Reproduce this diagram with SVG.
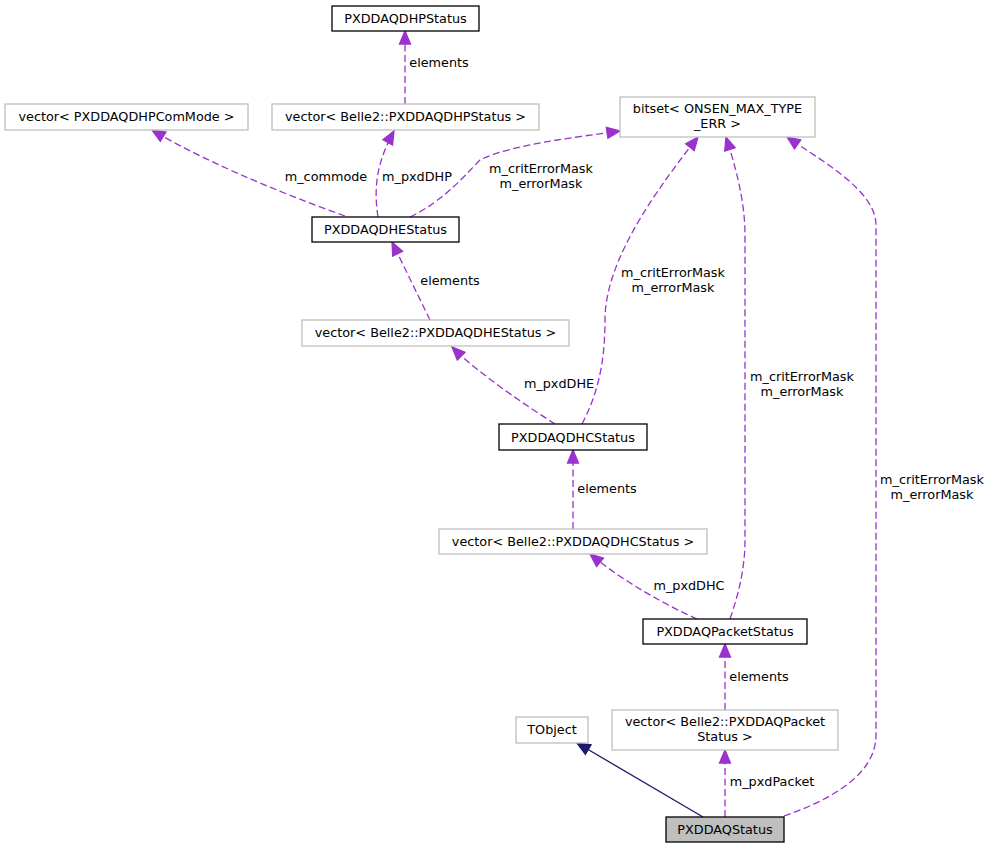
<svg xmlns="http://www.w3.org/2000/svg" width="992" height="848" viewBox="0 0 992 848">
<style>
text{font-family:"DejaVu Sans","Liberation Sans",sans-serif;font-size:12.8px;fill:#000;text-anchor:middle}
.doc{fill:#fff;stroke:#000;stroke-width:1.3}
.ext{fill:#fff;stroke:#bfbfbf;stroke-width:1.3}
.cur{fill:#bfbfbf;stroke:#000;stroke-width:1.3}
.use{fill:none;stroke:#9a32cd;stroke-width:1.3;stroke-dasharray:7,3.5;marker-end:url(#pa)}
.inh{fill:none;stroke:#191970;stroke-width:1.3;marker-end:url(#ba)}
</style>
<defs>
<marker id="pa" markerUnits="userSpaceOnUse" markerWidth="16" markerHeight="14" refX="14" refY="6" orient="auto" viewBox="0 0 16 12">
<path d="M1,0.5 L14,6 L1,11.5 Z" fill="#9a32cd" stroke="#9a32cd" stroke-width="1.3" stroke-dasharray="none"/>
</marker>
<marker id="ba" markerUnits="userSpaceOnUse" markerWidth="16" markerHeight="14" refX="14" refY="6" orient="auto" viewBox="0 0 16 12">
<path d="M1,0.5 L14,6 L1,11.5 Z" fill="#191970" stroke="#191970" stroke-width="1.3"/>
</marker>
</defs>
<g id="connectors">
<path class="use" d="M405,104 V31"/>
<text x="439" y="66.5">elements</text>
<path class="use" d="M345,216 C300,200 210,165 152,130"/>
<text x="326" y="181">m_commode</text>
<path class="use" d="M378,217 C373,185 378,160 394,131"/>
<text x="417" y="181">m_pxdDHP</text>
<path class="use" d="M410,217 C445,200 465,175 480,160 C510,145 570,138 620,131"/>
<text x="541" y="173">m_critErrorMask</text>
<text x="541" y="188">m_errorMask</text>
<path class="use" d="M430,320 L392,242"/>
<text x="450" y="285">elements</text>
<path class="use" d="M555,424 C530,408 480,375 452,347"/>
<text x="559" y="388">m_pxdDHE</text>
<path class="use" d="M582,424 C597,395 605,365 605,320 C605,270 640,210 698,137"/>
<text x="673" y="277">m_critErrorMask</text>
<text x="673" y="292">m_errorMask</text>
<path class="use" d="M573,529 V450"/>
<text x="607" y="493">elements</text>
<path class="use" d="M697,619 C670,607 625,583 590,554"/>
<text x="689" y="590">m_pxdDHC</text>
<path class="use" d="M730,619 C740,590 745,565 745,540 V235 C745,200 735,165 726,137"/>
<text x="802" y="381">m_critErrorMask</text>
<text x="802" y="396">m_errorMask</text>
<path class="use" d="M725,710 V644"/>
<text x="759" y="681">elements</text>
<path class="use" d="M725,817 V750"/>
<text x="772" y="786">m_pxdPacket</text>
<path class="use" d="M784,816 C830,800 876,775 876,735 V225 C876,190 820,160 787,137"/>
<text x="932" y="484">m_critErrorMask</text>
<text x="932" y="499">m_errorMask</text>
<path class="inh" d="M703,817 L577,743"/>
</g>
<g id="PXDDAQDHPStatus"><rect class="doc" x="332" y="6" width="147" height="25"/><text x="405.5" y="23">PXDDAQDHPStatus</text></g>
<g id="vecDHP"><rect class="ext" x="272" y="104" width="267" height="26"/><text x="405.5" y="121">vector&lt; Belle2::PXDDAQDHPStatus &gt;</text></g>
<g id="vecComMode"><rect class="ext" x="5" y="104" width="243" height="26"/><text x="126.5" y="121">vector&lt; PXDDAQDHPComMode &gt;</text></g>
<g id="bitset"><rect class="ext" x="620" y="97" width="195" height="40"/><text x="717.5" y="112.5">bitset&lt; ONSEN_MAX_TYPE</text><text x="717.5" y="127.5">_ERR &gt;</text></g>
<g id="PXDDAQDHEStatus"><rect class="doc" x="312" y="217" width="147" height="25"/><text x="385.5" y="234">PXDDAQDHEStatus</text></g>
<g id="vecDHE"><rect class="ext" x="302" y="320" width="267" height="26"/><text x="435.5" y="337">vector&lt; Belle2::PXDDAQDHEStatus &gt;</text></g>
<g id="PXDDAQDHCStatus"><rect class="doc" x="499" y="424" width="148" height="26"/><text x="573" y="441.5">PXDDAQDHCStatus</text></g>
<g id="vecDHC"><rect class="ext" x="439" y="529" width="268" height="25"/><text x="573" y="546">vector&lt; Belle2::PXDDAQDHCStatus &gt;</text></g>
<g id="PXDDAQPacketStatus"><rect class="doc" x="643" y="619" width="164" height="25"/><text x="725" y="636">PXDDAQPacketStatus</text></g>
<g id="vecPacket"><rect class="ext" x="612" y="710" width="226" height="40"/><text x="725" y="726">vector&lt; Belle2::PXDDAQPacket</text><text x="725" y="741">Status &gt;</text></g>
<g id="TObject"><rect class="ext" x="516" y="717" width="72" height="26"/><text x="552" y="734">TObject</text></g>
<g id="PXDDAQStatus"><rect class="cur" x="666" y="817" width="118" height="25"/><text x="725" y="834">PXDDAQStatus</text></g>
</svg>
